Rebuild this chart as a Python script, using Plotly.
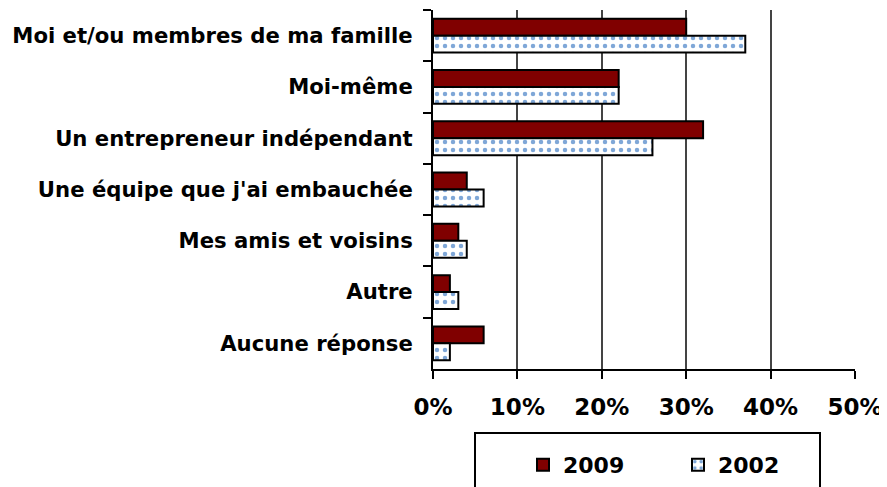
import plotly.graph_objects as go

categories = ["Moi et/ou membres de ma famille", "Moi-même", "Un entrepreneur indépendant",
              "Une équipe que j'ai embauchée", "Mes amis et voisins", "Autre", "Aucune réponse"]
values_2009 = [30, 22, 32, 4, 3, 2, 6]
values_2002 = [37, 22, 26, 6, 4, 3, 2]
x_ticks = [0, 10, 20, 30, 40, 50]
x_tick_labels = ["0%", "10%", "20%", "30%", "40%", "50%"]

FONT = "DejaVu Sans"

fig = go.Figure()
fig.add_trace(go.Bar(
    y=categories, x=values_2009, name="2009", orientation="h",
    marker=dict(color="#800000", line=dict(color="black", width=2)),
))
fig.add_trace(go.Bar(
    y=categories, x=values_2002, name="2002", orientation="h",
    marker=dict(color="white", line=dict(color="black", width=2),
                pattern=dict(shape=".", fgcolor="#0050b0", bgcolor="white", size=8, solidity=0.25)),
))

# page body has an 8px margin: work in figure coords = screen coords - 8
OFF = 8
W, H = 887 - OFF, 487 - OFF
L = 433 - OFF
T = 10 - OFF
R = W - (855 - OFF)
B = H - (369 - OFF)
pw, ph = W - L - R, H - T - B

def px_x(p):
    return (p - OFF - L) / pw

def px_y(p):
    return (H - B - (p - OFF)) / ph

fig.update_layout(
    width=W, height=H,
    margin=dict(l=L, r=R, t=T, b=B, autoexpand=False),
    paper_bgcolor="white", plot_bgcolor="white",
    barmode="group", bargap=0.34, bargroupgap=0,
    font=dict(family=FONT, color="black"),
    showlegend=True,
    legend=dict(orientation="h", x=px_x(523), y=px_y(444), xanchor="left", yanchor="top",
                font=dict(size=22, family=FONT, weight="bold"),
                entrywidth=110, entrywidthmode="pixels",
                bgcolor="rgba(0,0,0,0)", borderwidth=0),
    xaxis=dict(range=[0, 50], tickvals=x_ticks, ticktext=x_tick_labels,
               showgrid=True, gridcolor="#444", gridwidth=1.5,
               showline=True, linecolor="black", linewidth=2,
               ticks="outside", ticklen=8, tickcolor="black", tickwidth=2,
               ticklabelstandoff=8,
               tickfont=dict(size=23, family=FONT, weight="bold"),
               zeroline=False, fixedrange=True, automargin=False),
    yaxis=dict(autorange="reversed", showgrid=False,
               showline=True, linecolor="black", linewidth=2,
               ticks="outside", ticklen=8, tickcolor="black", tickwidth=2,
               tickson="boundaries", ticklabelstandoff=14,
               tickfont=dict(size=21.2, family=FONT, weight="bold"),
               fixedrange=True, automargin=False),
    shapes=[dict(type="rect", xref="paper", yref="paper",
                 x0=px_x(475), x1=px_x(820), y0=px_y(520), y1=px_y(433),
                 line=dict(color="black", width=2), fillcolor="rgba(0,0,0,0)")],
)

fig.write_html("out.html")
